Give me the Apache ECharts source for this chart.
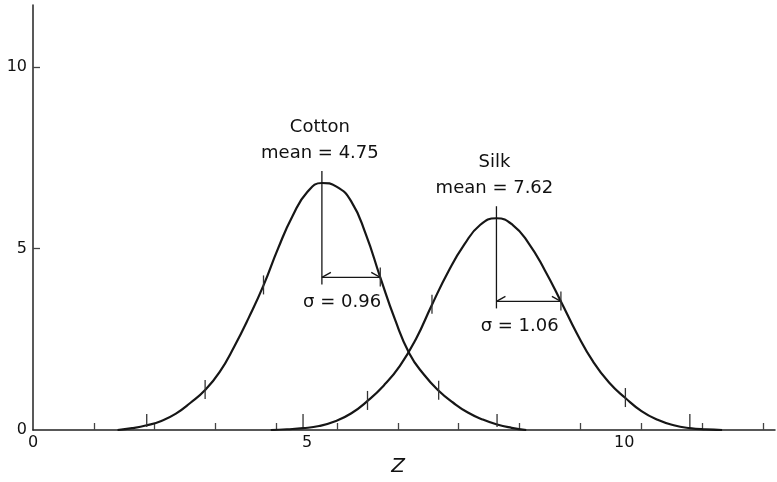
<!DOCTYPE html>
<html>
<head>
<meta charset="utf-8">
<title>Cotton and silk Z distributions</title>
<script src="https://cdn.jsdelivr.net/npm/echarts@6.0.0/dist/echarts.min.js"></script>
<style>
  html, body { margin: 0; padding: 0; background: #ffffff; }
  #chart { width: 777px; height: 482px; }
</style>
</head>
<body>
<div id="chart"></div>
<script>
// Frequency curves of Z for the two fibres
const cottonZ    = [1.39, 1.63, 1.87, 2.11, 2.35, 2.59, 2.83, 3.07, 3.31, 3.55, 3.79, 4.03, 4.27, 4.51, 4.75,
                    4.99, 5.23, 5.47, 5.71, 5.95, 6.19, 6.43, 6.67, 6.91, 7.15, 7.39, 7.63, 7.87, 8.11];
const cottonFreq = [0.0, 0.05, 0.13, 0.25, 0.45, 0.75, 1.1, 1.6, 2.3, 3.1, 3.98, 5.0, 5.9, 6.55, 6.8,
                    6.7, 6.3, 5.4, 4.2, 3.05, 2.1, 1.52, 1.08, 0.75, 0.48, 0.29, 0.15, 0.06, 0.0];

const silkZ    = [3.91, 4.175, 4.44, 4.705, 4.97, 5.235, 5.5, 5.765, 6.03, 6.295, 6.56, 6.825, 7.09, 7.355, 7.62,
                  7.885, 8.15, 8.415, 8.68, 8.945, 9.21, 9.475, 9.74, 10.005, 10.27, 10.535, 10.8, 11.065, 11.33];
const silkFreq = [0.0, 0.02, 0.05, 0.11, 0.24, 0.46, 0.8, 1.22, 1.76, 2.5, 3.45, 4.35, 5.1, 5.65, 5.83,
                  5.65, 5.14, 4.4, 3.54, 2.65, 1.88, 1.3, 0.88, 0.52, 0.28, 0.13, 0.05, 0.015, 0.0];

// Summary statistics written on the chart
const fibreNames = ['Cotton', 'Silk'];
const means      = [4.75, 7.62];
const sigmas     = [0.96, 1.06];

// Axis ticks and labels
const xTickValues  = [1, 2, 3, 4, 5, 6, 7, 8, 9, 10, 11, 12];
const xLabelValues = [0, 5, 10];
const yTickValues  = [5, 10];
const yLabelValues = [0, 5, 10];

const curveX = [cottonZ, silkZ];
const curveY = [cottonFreq, silkFreq];

const INK = '#161616';
const FONT = 'DejaVu Sans';

function valueAt(xs, ys, x) {
  if (x <= xs[0]) return ys[0];
  for (let k = 1; k < xs.length; k++) {
    if (x <= xs[k]) {
      const t = (x - xs[k - 1]) / (xs[k] - xs[k - 1]);
      return ys[k - 1] + t * (ys[k] - ys[k - 1]);
    }
  }
  return ys[ys.length - 1];
}

function toPairs(xs, ys) {
  return xs.map((x, k) => [x, ys[k]]);
}

// Mean line, sigma arrow, sigma ticks on the curve and the text block
function renderAnnotation(params, api) {
  const i = params.dataIndex;
  const mu = means[i], sd = sigmas[i];
  const xs = curveX[i], ys = curveY[i];
  const f = v => valueAt(xs, ys, v);
  const P = (x, y) => api.coord([x, y]);
  const base = P(0, 0)[1];
  const peak = P(mu, f(mu));
  const h1 = f(mu + sd);
  const a0 = P(mu, h1), a1 = P(mu + sd, h1);
  const stroke = { stroke: INK, lineWidth: 1.3, fill: null };
  const kids = [];

  kids.push({ type: 'line', shape: { x1: peak[0], y1: peak[1] - 12, x2: peak[0], y2: a0[1] + 7 }, style: stroke });
  kids.push({ type: 'line', shape: { x1: a0[0], y1: a0[1], x2: a1[0], y2: a1[1] }, style: stroke });
  kids.push({ type: 'polyline', shape: { points: [[a0[0] + 9, a0[1] - 5], [a0[0], a0[1]]] }, style: stroke });
  kids.push({ type: 'polyline', shape: { points: [[a1[0] - 9, a1[1] - 5], [a1[0], a1[1]]] }, style: stroke });

  [-3, -2, -1, 1, 2, 3].forEach(k => {
    const x = mu + k * sd;
    const p = P(x, f(x));
    const bottom = Math.min(p[1] + 9, base - 3);
    const top = Math.min(p[1] - 10, bottom - 13);
    kids.push({ type: 'line', shape: { x1: p[0], y1: top, x2: p[0], y2: bottom },
                style: { stroke: '#333', lineWidth: 1.3 } });
  });

  const textStyle = (text, x, y) => ({
    type: 'text',
    style: { text, x, y, fill: '#111', font: '18px "' + FONT + '"', textAlign: 'center', textVerticalAlign: 'middle' }
  });
  kids.push(textStyle(fibreNames[i], peak[0] - 2, peak[1] - 56));
  kids.push(textStyle('mean = ' + means[i].toFixed(2), peak[0] - 2, peak[1] - 30));
  const mid = P(mu + sd / 2, h1);
  kids.push(textStyle('\u03C3 = ' + sigmas[i].toFixed(2), mid[0] - 9, a0[1] + 25));

  return { type: 'group', children: kids };
}

const chart = echarts.init(document.getElementById('chart'), null, { renderer: 'canvas' });

const axisText = { color: '#111', fontSize: 16, fontFamily: FONT };

chart.setOption({
  backgroundColor: '#ffffff',
  animation: false,
  grid: { left: 33, right: 2, top: 5, bottom: 48, containLabel: false },
  xAxis: {
    type: 'value',
    min: 0,
    max: 12.2,
    name: 'Z',
    nameLocation: 'middle',
    nameGap: 27,
    nameTextStyle: { color: '#111', fontSize: 20, fontStyle: 'italic', fontFamily: FONT, padding: [0, 12, 0, 0] },
    axisLine: { show: true, onZero: false, lineStyle: { color: '#222', width: 1.5 } },
    axisTick: { show: true, inside: true, length: 7, customValues: xTickValues,
                lineStyle: { color: '#444', width: 1.3 } },
    axisLabel: {
      show: true,
      margin: 5,
      customValues: xLabelValues,
      ...axisText,
      formatter: v => v === 5 ? '{five|5}' : v === 10 ? '{ten|10}' : String(v),
      rich: {
        five: { ...axisText, padding: [0, 60, 0, 0] },
        ten: { ...axisText, padding: [0, 34, 0, 0] }
      }
    },
    splitLine: { show: false }
  },
  yAxis: {
    type: 'value',
    min: 0,
    max: 11.7,
    axisLine: { show: true, onZero: false, lineStyle: { color: '#222', width: 1.5 } },
    axisTick: { show: true, inside: true, length: 7, customValues: yTickValues,
                lineStyle: { color: '#444', width: 1.3 } },
    axisLabel: { show: true, margin: 6, customValues: yLabelValues, ...axisText },
    splitLine: { show: false }
  },
  series: [
    {
      name: 'Cotton',
      type: 'line',
      data: toPairs(cottonZ, cottonFreq),
      showSymbol: false,
      smooth: 0.5,
      lineStyle: { color: INK, width: 2.2 },
      z: 3
    },
    {
      name: 'Silk',
      type: 'line',
      data: toPairs(silkZ, silkFreq),
      showSymbol: false,
      smooth: 0.5,
      lineStyle: { color: INK, width: 2.2 },
      z: 3
    },
    {
      name: 'statistics',
      type: 'custom',
      coordinateSystem: 'cartesian2d',
      renderItem: renderAnnotation,
      data: means.map((m, i) => [m, valueAt(curveX[i], curveY[i], m)]),
      clip: false,
      silent: true,
      z: 4
    }
  ]
});
</script>
</body>
</html>
